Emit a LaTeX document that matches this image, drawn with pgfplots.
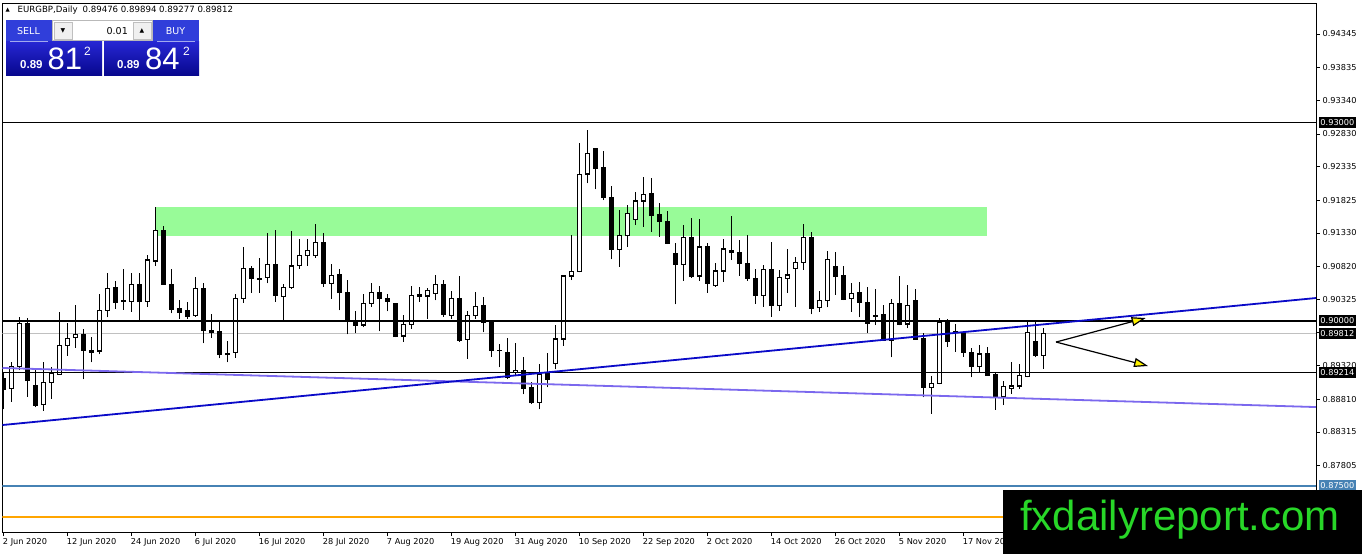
\documentclass[border=0pt]{standalone}
\usepackage{pgfplots}
\pgfplotsset{compat=1.18}
\usepackage{pgfplotstable}
\usepackage{fontspec}
\setmainfont{DejaVu Sans}
\newfontfamily\lib{Liberation Sans}
\usetikzlibrary{arrows.meta}
\definecolor{trendblue}{RGB}{10,10,200}
\definecolor{trendpurple}{RGB}{123,104,238}
\definecolor{steel}{RGB}{70,130,180}
\definecolor{orangeline}{RGB}{255,165,0}
\definecolor{bidgray}{RGB}{192,192,192}
\definecolor{zonegreen}{RGB}{152,251,152}
\definecolor{sellblue}{RGB}{48,62,218}
\definecolor{paneltop}{RGB}{38,38,210}
\definecolor{panelbot}{RGB}{6,6,140}
\definecolor{wmgreen}{RGB}{40,215,40}

\pgfplotstableread{
x o h l c
0 0.89128 0.89204 0.88659 0.88962
3 0.89961 0.90037 0.88850 0.89093
4 0.89022 0.89280 0.88689 0.88724
10 0.89795 0.89876 0.89113 0.89547
11 0.89557 0.89749 0.89371 0.89522
14 0.90502 0.90603 0.90184 0.90280
15 0.90300 0.90785 0.90169 0.90290
17 0.90552 0.90729 0.90012 0.90290
20 0.91365 0.91436 0.90552 0.90552
21 0.90557 0.90785 0.90113 0.90174
22 0.90179 0.90315 0.90032 0.90123
23 0.90148 0.90290 0.90027 0.90068
25 0.90492 0.90567 0.89659 0.89850
26 0.89860 0.90103 0.89744 0.89820
27 0.89830 0.90002 0.89431 0.89492
28 0.89497 0.89694 0.89371 0.89487
31 0.90795 0.90835 0.90426 0.90643
32 0.90643 0.90956 0.90426 0.90633
34 0.90855 0.91375 0.90290 0.90381
40 0.91189 0.91325 0.90517 0.90562
42 0.90694 0.90780 0.90158 0.90426
43 0.90426 0.90618 0.89795 0.89992
44 0.90007 0.90148 0.89810 0.89936
47 0.90426 0.90532 0.89840 0.90340
48 0.90330 0.90406 0.90143 0.90295
49 0.90265 0.90275 0.89749 0.89760
55 0.90552 0.90618 0.90063 0.90098
57 0.90340 0.90679 0.89684 0.89709
60 0.90234 0.90355 0.89825 0.89977
61 0.89982 0.89992 0.89457 0.89552
62 0.89557 0.89643 0.89295 0.89547
63 0.89522 0.89734 0.89113 0.89143
65 0.89254 0.89457 0.88886 0.88977
66 0.88987 0.89068 0.88739 0.88760
68 0.89194 0.89507 0.88992 0.89113
74 0.92613 0.92623 0.91992 0.92310
75 0.92325 0.92572 0.91830 0.91870
76 0.91870 0.92047 0.90931 0.91083
81 0.91921 0.92158 0.91350 0.91593
82 0.91603 0.91790 0.91275 0.91502
83 0.91497 0.91668 0.91163 0.91174
84 0.91022 0.91174 0.90249 0.90855
86 0.91264 0.91562 0.90653 0.90669
88 0.91118 0.91184 0.90426 0.90567
91 0.91062 0.91593 0.90921 0.91032
92 0.91037 0.91224 0.90684 0.90870
93 0.90870 0.91300 0.90608 0.90643
94 0.90643 0.90785 0.90260 0.90381
96 0.90770 0.91199 0.90063 0.90229
101 0.91264 0.91345 0.90098 0.90189
104 0.90820 0.91042 0.90396 0.90669
105 0.90684 0.90830 0.90315 0.90330
107 0.90421 0.90583 0.90052 0.90280
108 0.90280 0.90517 0.89820 0.89961
109 0.90083 0.90482 0.89936 0.90073
110 0.90088 0.90239 0.89699 0.89709
112 0.90254 0.90684 0.89931 0.89946
114 0.90300 0.90482 0.89709 0.89719
115 0.89724 0.89810 0.88840 0.88992
118 0.89972 0.90027 0.89608 0.89684
119 0.89830 0.89951 0.89532 0.89820
120 0.89825 0.89845 0.89457 0.89522
121 0.89522 0.89583 0.89143 0.89305
123 0.89497 0.89608 0.89169 0.89179
124 0.89179 0.89204 0.88649 0.88850
129 0.89684 0.90012 0.89446 0.89471
}\bear

\pgfplotstableread{
x o h l c
1 0.88977 0.89371 0.88775 0.89305
2 0.89305 0.90062 0.89254 0.89961
5 0.88729 0.89371 0.88638 0.89068
6 0.89068 0.89305 0.88820 0.89204
7 0.89189 0.90133 0.89179 0.89628
8 0.89628 0.89966 0.89472 0.89734
9 0.89749 0.90239 0.89588 0.89795
12 0.89542 0.90411 0.89492 0.90158
13 0.90158 0.90724 0.90052 0.90492
16 0.90295 0.90719 0.90138 0.90552
18 0.90290 0.90997 0.90214 0.90921
19 0.90906 0.91729 0.90830 0.91365
24 0.90078 0.90669 0.90063 0.90492
29 0.89522 0.90401 0.89441 0.90340
30 0.90340 0.91123 0.90275 0.90795
33 0.90658 0.91325 0.90567 0.90855
35 0.90366 0.90552 0.89997 0.90502
36 0.90507 0.91360 0.90487 0.90830
37 0.90835 0.91239 0.90790 0.90992
38 0.90992 0.91239 0.90835 0.91067
39 0.90987 0.91466 0.90956 0.91189
41 0.90562 0.90860 0.90335 0.90689
45 0.89936 0.90411 0.89901 0.90265
46 0.90265 0.90567 0.90214 0.90426
50 0.89770 0.90088 0.89684 0.89946
51 0.89946 0.90532 0.89876 0.90381
52 0.90376 0.90507 0.90290 0.90391
53 0.90376 0.90502 0.90027 0.90462
54 0.90416 0.90694 0.90310 0.90557
56 0.90083 0.90446 0.90027 0.90340
58 0.89719 0.90143 0.89426 0.90078
59 0.90078 0.90436 0.90027 0.90214
64 0.89224 0.89669 0.89179 0.89254
67 0.88765 0.89345 0.88659 0.89189
69 0.89355 0.89936 0.89265 0.89724
70 0.89724 0.90694 0.89623 0.90679
71 0.90679 0.91300 0.90618 0.90749
72 0.90744 0.92699 0.90734 0.92219
73 0.92224 0.92890 0.92083 0.92537
77 0.91083 0.91679 0.90820 0.91290
78 0.91290 0.91754 0.91123 0.91628
79 0.91537 0.91956 0.91451 0.91815
80 0.91815 0.92173 0.91426 0.91911
85 0.90855 0.91446 0.90608 0.91264
87 0.90679 0.91542 0.90608 0.91118
89 0.90532 0.90881 0.90517 0.90754
90 0.90754 0.91239 0.90593 0.91088
95 0.90381 0.90845 0.90214 0.90770
97 0.90229 0.90770 0.90148 0.90653
98 0.90643 0.91088 0.90426 0.90694
99 0.90795 0.90971 0.90214 0.90886
100 0.90886 0.91466 0.90770 0.91264
102 0.90199 0.90451 0.90138 0.90305
103 0.90305 0.91057 0.90204 0.90931
106 0.90340 0.90567 0.90138 0.90416
111 0.89709 0.90330 0.89446 0.90265
113 0.89951 0.90542 0.89886 0.90234
116 0.88992 0.89164 0.88588 0.89053
117 0.89053 0.90037 0.89037 0.89972
122 0.89305 0.89633 0.89219 0.89497
125 0.88850 0.89093 0.88724 0.89002
126 0.88977 0.89371 0.88891 0.89012
127 0.89012 0.89345 0.88972 0.89164
128 0.89153 0.90012 0.89143 0.89820
130 0.89476 0.89894 0.89277 0.89812
}\bull

\begin{document}
\begin{tikzpicture}
\path[use as bounding box] (0,0) rectangle (1362bp,554bp);
\fill[white] (0,0) rectangle (1362bp,554bp);
\begin{axis}[
  at={(2.5bp,22bp)}, anchor=south west,
  width=1313.5bp, height=529bp, scale only axis,
  xmin=-0.1, xmax=164.09, ymin=0.868, ymax=0.94815,
  axis line style={black, line width=0.9bp},
  xtick={0,8,...,120},
  xticklabels={2 Jun 2020,12 Jun 2020,24 Jun 2020,6 Jul 2020,16 Jul 2020,28 Jul 2020,7 Aug 2020,19 Aug 2020,31 Aug 2020,10 Sep 2020,22 Sep 2020,2 Oct 2020,14 Oct 2020,26 Oct 2020,5 Nov 2020,17 Nov 2020},
  ytick={0.94345,0.93835,0.93340,0.92830,0.92335,0.91825,0.91330,0.90820,0.90325,0.89830,0.89320,0.88810,0.88315,0.87805},
  yticklabels={0.94345,0.93835,0.93340,0.92830,0.92335,0.91825,0.91330,0.90820,0.90325,0.89830,0.89320,0.88810,0.88315,0.87805},
  xtick pos=left, ytick pos=right, yticklabel pos=right,
  tick align=outside, major tick length=4bp,
  tick style={black, line width=0.7bp},
  xticklabel style={anchor=north west, xshift=-1.5bp, yshift=-1.5bp, inner sep=1bp, font=\fontsize{8.2bp}{9.6bp}\selectfont},
  yticklabel style={anchor=west, inner sep=1bp, xshift=1.5bp, font=\fontsize{8.2bp}{9.6bp}\selectfont},
  candle/.style={draw=none, mark=none, error bars/.cd, y dir=plus, y explicit, error mark=none},
]
% supply/resistance zone
\addplot[draw=none, fill=zonegreen] coordinates {(19,0.91289) (123,0.91289) (123,0.91719) (19,0.91719)} --cycle;
% horizontal levels
\addplot[bidgray, line width=0.9bp] coordinates {(-0.1,0.89812) (164.09,0.89812)};
\addplot[orangeline, line width=1.8bp] coordinates {(-0.1,0.87030) (164.09,0.87030)};
\addplot[steel, line width=1.6bp] coordinates {(-0.1,0.87500) (164.09,0.87500)};
% wicks
\addplot[candle, error bar style={draw=black, line width=1bp}]
  table[x=x, y=l, y error expr=\thisrow{h}-\thisrow{l}] {\bear};
\addplot[candle, error bar style={draw=black, line width=1bp}]
  table[x=x, y=l, y error expr=\thisrow{h}-\thisrow{l}] {\bull};
% bearish bodies
\addplot[candle, error bar style={draw=black, line width=5bp}]
  table[x=x, y expr=\thisrow{c}-0.00008, y error expr=\thisrow{o}-\thisrow{c}+0.00016] {\bear};
% bullish bodies: outline and white fill
\addplot[candle, error bar style={draw=black, line width=5bp}]
  table[x=x, y expr=\thisrow{o}-0.00008, y error expr=\thisrow{c}-\thisrow{o}+0.00016] {\bull};
\addplot[candle, error bar style={draw=white, line width=3bp}]
  table[x=x, y expr=\thisrow{o}+0.00008, y error expr={max(\thisrow{c}-\thisrow{o}-0.00016,0)}] {\bull};
% levels over the candles
\addplot[black, line width=0.9bp] coordinates {(-0.1,0.93) (164.09,0.93)};
\addplot[black, line width=1.8bp] coordinates {(-0.1,0.90) (164.09,0.90)};
\addplot[black, line width=0.9bp] coordinates {(-0.1,0.89214) (164.09,0.89214)};
% trend lines
\addplot[trendpurple, line width=1.8bp] coordinates {(-0.1,0.89285) (164.09,0.88693)};
\addplot[trendblue, line width=1.8bp] coordinates {(-0.1,0.88421) (164.09,0.90345)};
% arrows
\draw[black, line width=1.2bp, -{Triangle[length=14bp,width=9bp,fill=yellow]}] (axis cs:131.6,0.89678) -- (axis cs:142.8,0.90042);
\draw[black, line width=1.2bp, -{Triangle[length=14bp,width=9bp,fill=yellow]}] (axis cs:131.6,0.89678) -- (axis cs:143.1,0.89315);
\coordinate (p93) at (axis cs:164.09,0.93);
\coordinate (p90) at (axis cs:164.09,0.90);
\coordinate (pbid) at (axis cs:164.09,0.89812);
\coordinate (p892) at (axis cs:164.09,0.89214);
\coordinate (p875) at (axis cs:164.09,0.875);
\end{axis}
% price boxes
\tikzset{pbox/.style={anchor=west, inner sep=1.3bp, minimum height=11bp, text=white, font=\fontsize{8.2bp}{9.6bp}\selectfont}}
\node[pbox, fill=black] at ([xshift=3bp]p93) {0.93000};
\node[pbox, fill=black] at ([xshift=3bp]p90) {0.90000};
\node[pbox, fill=black] at ([xshift=3bp]pbid) {0.89812};
\node[pbox, fill=black] at ([xshift=3bp]p892) {0.89214};
\node[pbox, fill=steel] at ([xshift=3bp]p875) {0.87500};
% overlays in pixel coordinates (origin top-left)
\begin{scope}[shift={(0,554bp)}, x=1bp, y=-1bp]
\node[anchor=west, inner sep=0, font=\fontsize{5.5bp}{6bp}\selectfont] at (5.5,10) {▲};
\node[anchor=west, inner sep=0, font=\fontsize{8.6bp}{10bp}\selectfont] at (17.5,10.5)
  {EURGBP,Daily\hspace{5bp}0.89476 0.89894 0.89277 0.89812};
% trade panel
\fill[sellblue] (6,20) rectangle (52,42);
\fill[sellblue] (153,20) rectangle (199,42);
\draw[gray!55, fill=white] (52.5,20.5) rectangle (152.5,40.5);
\draw[gray!50, fill=gray!12] (54,22) rectangle (72,39);
\draw[gray!50, fill=gray!12] (133,22) rectangle (151,39);
\node[font=\fontsize{6bp}{6bp}\selectfont] at (63,30.5) {▼};
\node[font=\fontsize{6bp}{6bp}\selectfont] at (142,30.5) {▲};
\node[anchor=east, inner sep=0, font=\fontsize{9.5bp}{11bp}\selectfont] at (128,31) {0.01};
\node[text=white, font=\fontsize{9.5bp}{11bp}\selectfont] at (28.5,31) {SELL};
\node[text=white, font=\fontsize{9.5bp}{11bp}\selectfont] at (175.5,31) {BUY};
\shade[top color=paneltop, bottom color=panelbot] (6,42) rectangle (102,76);
\shade[top color=paneltop, bottom color=panelbot] (104,42) rectangle (199,76);
\draw[white!55!sellblue, line width=0.8bp] (10,41.6) -- (48,41.6);
\draw[white!55!sellblue, line width=0.8bp] (157,41.6) -- (195,41.6);
\node[anchor=base west, inner sep=0, text=white, font=\lib\bfseries\fontsize{11.5bp}{12bp}\selectfont] at (20,68.5) {0.89};
\node[anchor=base west, inner sep=0, text=white, font=\lib\fontsize{31bp}{31bp}\selectfont] at (47.5,69.5) {81};
\node[anchor=base west, inner sep=0, text=white, font=\lib\fontsize{12bp}{12bp}\selectfont] at (84,56) {2};
\node[anchor=base west, inner sep=0, text=white, font=\lib\bfseries\fontsize{11.5bp}{12bp}\selectfont] at (117,68.5) {0.89};
\node[anchor=base west, inner sep=0, text=white, font=\lib\fontsize{31bp}{31bp}\selectfont] at (145,69.5) {84};
\node[anchor=base west, inner sep=0, text=white, font=\lib\fontsize{12bp}{12bp}\selectfont] at (183,56) {2};
% watermark
\fill[black] (1003,490) rectangle (1362,554);
\node[anchor=base west, inner sep=0, text=wmgreen, font=\lib\fontsize{42bp}{42bp}\selectfont] at (1020,531) {fxdailyreport.com};
\end{scope}
\end{tikzpicture}
\end{document}
